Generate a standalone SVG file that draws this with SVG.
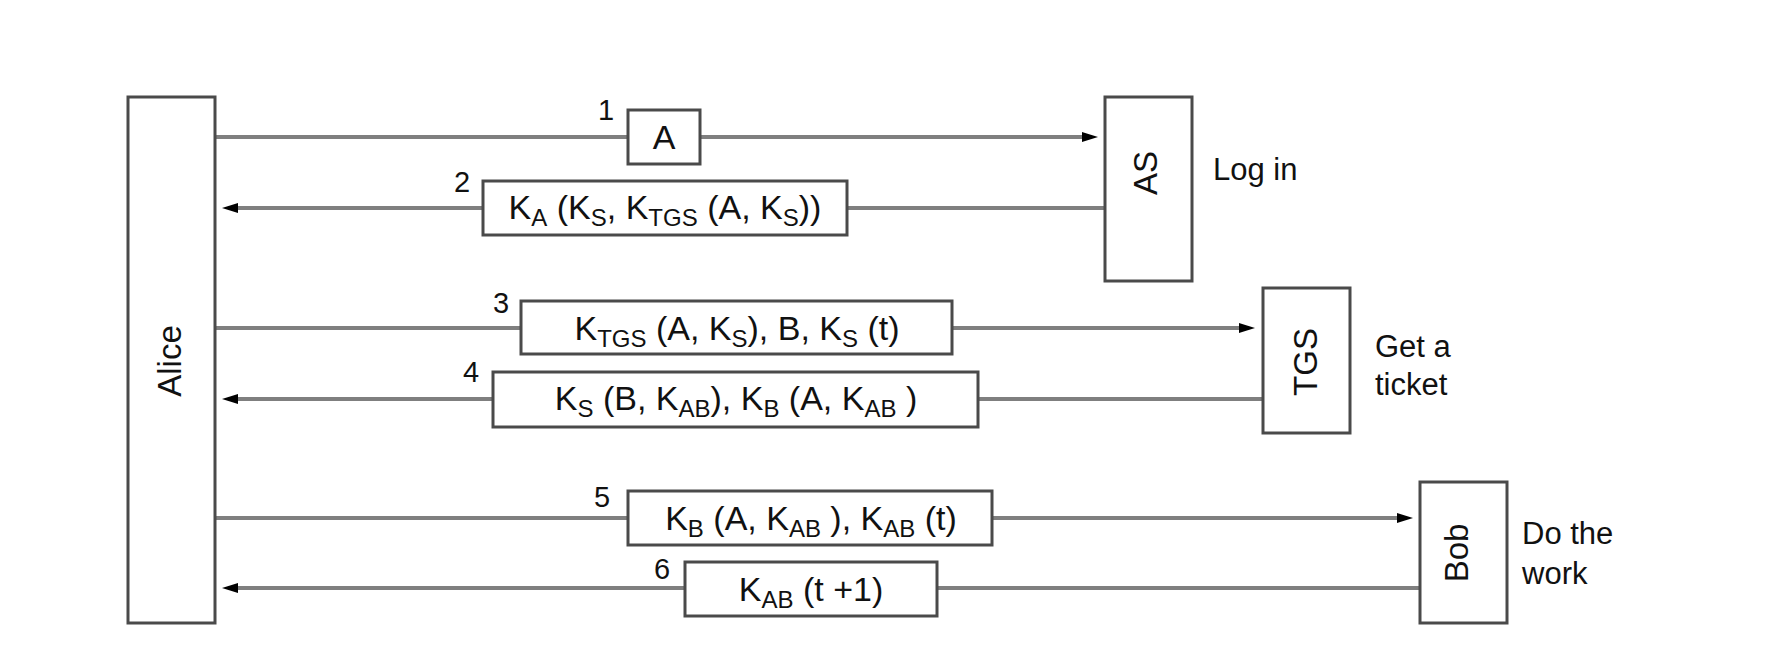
<svg xmlns="http://www.w3.org/2000/svg" width="1779" height="660" viewBox="0 0 1779 660">
<style>
.box{fill:#fff;stroke:#4a4a4a;stroke-width:3}
.con{stroke:#7f7f7f;stroke-width:4;fill:none}
text{font-family:"Liberation Sans",Arial,sans-serif;fill:#111}
.lbl{font-size:33px}
.msg{font-size:34px;text-anchor:middle}
.sub{font-size:24px}
.num{font-size:29px}
.side{font-size:31px}
</style>
<defs>
<marker id="arr" viewBox="0 0 16 12" refX="3" refY="6" markerWidth="16" markerHeight="12" markerUnits="userSpaceOnUse" orient="auto">
<path d="M0,1 L16,6 L0,11 Z" fill="#000"/>
</marker>
</defs>
<rect width="1779" height="660" fill="#fff"/>
<g id="connectors">
<line class="con" x1="215" y1="137" x2="1085" y2="137" marker-end="url(#arr)"/>
<line class="con" x1="1105" y1="208" x2="235" y2="208" marker-end="url(#arr)"/>
<line class="con" x1="215" y1="328" x2="1242" y2="328" marker-end="url(#arr)"/>
<line class="con" x1="1262" y1="399" x2="235" y2="399" marker-end="url(#arr)"/>
<line class="con" x1="215" y1="518" x2="1400" y2="518" marker-end="url(#arr)"/>
<line class="con" x1="1420" y1="588" x2="235" y2="588" marker-end="url(#arr)"/>
</g>
<g id="alice">
<rect class="box" x="128" y="97" width="87" height="526"/>
<text class="lbl" transform="translate(181,361) rotate(-90)" text-anchor="middle">Alice</text>
</g>
<g id="as">
<rect class="box" x="1105" y="97" width="87" height="184"/>
<text class="lbl" transform="translate(1157,173) rotate(-90)" text-anchor="middle">AS</text>
<text class="side" x="1213" y="180">Log in</text>
</g>
<g id="tgs">
<rect class="box" x="1263" y="288" width="87" height="145"/>
<text class="lbl" transform="translate(1317,362) rotate(-90)" text-anchor="middle">TGS</text>
<text class="side" x="1375" y="357">Get a</text>
<text class="side" x="1375" y="395">ticket</text>
</g>
<g id="bob">
<rect class="box" x="1420" y="482" width="87" height="141"/>
<text class="lbl" transform="translate(1468,553) rotate(-90)" text-anchor="middle">Bob</text>
<text class="side" x="1522" y="544">Do the</text>
<text class="side" x="1522" y="584">work</text>
</g>
<g id="msg1">
<rect class="box" x="628" y="110" width="72" height="54"/>
<text class="msg" x="664" y="149">A</text>
<text class="num" x="598" y="120">1</text>
</g>
<g id="msg2">
<rect class="box" x="483" y="181" width="364" height="54"/>
<text class="msg" x="665" y="219">K<tspan class="sub" dy="7">A</tspan><tspan dy="-7"> (K</tspan><tspan class="sub" dy="7">S</tspan><tspan dy="-7">, K</tspan><tspan class="sub" dy="7">TGS</tspan><tspan dy="-7"> (A, K</tspan><tspan class="sub" dy="7">S</tspan><tspan dy="-7">))</tspan></text>
<text class="num" x="454" y="192">2</text>
</g>
<g id="msg3">
<rect class="box" x="521" y="301" width="431" height="53"/>
<text class="msg" x="737" y="340">K<tspan class="sub" dy="7">TGS</tspan><tspan dy="-7"> (A, K</tspan><tspan class="sub" dy="7">S</tspan><tspan dy="-7">), B, K</tspan><tspan class="sub" dy="7">S</tspan><tspan dy="-7"> (t)</tspan></text>
<text class="num" x="493" y="313">3</text>
</g>
<g id="msg4">
<rect class="box" x="493" y="372" width="485" height="55"/>
<text class="msg" x="736" y="410">K<tspan class="sub" dy="7">S</tspan><tspan dy="-7"> (B, K</tspan><tspan class="sub" dy="7">AB</tspan><tspan dy="-7">), K</tspan><tspan class="sub" dy="7">B</tspan><tspan dy="-7"> (A, K</tspan><tspan class="sub" dy="7">AB</tspan><tspan dy="-7"> )</tspan></text>
<text class="num" x="463" y="382">4</text>
</g>
<g id="msg5">
<rect class="box" x="628" y="491" width="364" height="54"/>
<text class="msg" x="811" y="530">K<tspan class="sub" dy="7">B</tspan><tspan dy="-7"> (A, K</tspan><tspan class="sub" dy="7">AB</tspan><tspan dy="-7"> ), K</tspan><tspan class="sub" dy="7">AB</tspan><tspan dy="-7"> (t)</tspan></text>
<text class="num" x="594" y="507">5</text>
</g>
<g id="msg6">
<rect class="box" x="685" y="562" width="252" height="54"/>
<text class="msg" x="811" y="601">K<tspan class="sub" dy="7">AB</tspan><tspan dy="-7"> (t +1)</tspan></text>
<text class="num" x="654" y="579">6</text>
</g>
</svg>
